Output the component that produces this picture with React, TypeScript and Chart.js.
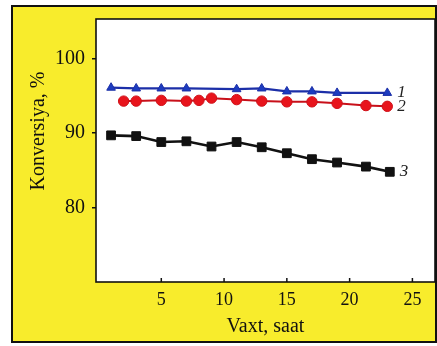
import { useEffect, useRef } from "react";
import { Chart, registerables } from "chart.js";

Chart.register(...registerables);

const hours1 = [1, 3, 5, 7, 11, 13, 15, 17, 19, 23];
const conv1 = [96.1, 96.0, 96.0, 96.0, 95.9, 96.0, 95.6, 95.6, 95.4, 95.4];
const hours2 = [2, 3, 5, 7, 8, 9, 11, 13, 15, 17, 19, 21.3, 23];
const conv2 = [94.3, 94.3, 94.4, 94.3, 94.4, 94.7, 94.5, 94.3, 94.2, 94.2, 94.0, 93.7, 93.6];
const hours3 = [1, 3, 5, 7, 9, 11, 13, 15, 17, 19, 21.3, 23.2];
const conv3 = [89.7, 89.6, 88.8, 88.9, 88.2, 88.8, 88.1, 87.3, 86.5, 86.05, 85.5, 84.8];
const seriesLabels = ["1", "2", "3"];
const xTicks = [5, 10, 15, 20, 25];
const yTicks = [80, 90, 100];
const xTitle = "Vaxt, saat";
const yTitle = "Konversiya, %";

const SERIF = "'Liberation Serif', 'Times New Roman', serif";

const framePlugin = {
  id: "frame",
  beforeDraw(chart: any) {
    const { ctx, chartArea } = chart;
    ctx.save();
    ctx.fillStyle = "#ffffff";
    ctx.fillRect(0, 0, chart.width, chart.height);
    ctx.fillStyle = "#f8ec2c";
    ctx.fillRect(12, 6, 424, 336);
    ctx.strokeStyle = "#111";
    ctx.lineWidth = 2;
    ctx.strokeRect(12, 6, 424, 336);
    ctx.fillStyle = "#ffffff";
    ctx.fillRect(chartArea.left, chartArea.top, chartArea.right - chartArea.left, chartArea.bottom - chartArea.top);
    ctx.restore();
  },
  afterDraw(chart: any) {
    const { ctx, chartArea } = chart;
    const xs = chart.scales.x;
    ctx.save();
    ctx.strokeStyle = "#111";
    ctx.lineWidth = 1.6;
    ctx.strokeRect(chartArea.left, chartArea.top, chartArea.right - chartArea.left, chartArea.bottom - chartArea.top);
    // inner x ticks
    ctx.lineWidth = 1.5;
    xTicks.forEach((v) => {
      const px = xs.getPixelForValue(v);
      ctx.beginPath();
      ctx.moveTo(px, chartArea.bottom);
      ctx.lineTo(px, chartArea.bottom - 4);
      ctx.stroke();
    });
    // series labels
    ctx.fillStyle = "#222";
    ctx.font = "italic 17px " + SERIF;
    ctx.textAlign = "left";
    ctx.textBaseline = "middle";
    chart.data.datasets.forEach((ds: any, i: number) => {
      const meta = chart.getDatasetMeta(i);
      const last = meta.data[meta.data.length - 1];
      ctx.fillText(seriesLabels[i], last.x + 10, last.y);
    });
    // y title
    ctx.fillStyle = "#111";
    ctx.font = "20px " + SERIF;
    ctx.textAlign = "center";
    ctx.translate(39, 131);
    ctx.rotate(-Math.PI / 2);
    ctx.fillText(yTitle, 0, 0);
    ctx.restore();
  },
};

export default function App() {
  const ref = useRef<HTMLCanvasElement>(null);
  useEffect(() => {
    if (!ref.current) return;
    const toPts = (xs: number[], ys: number[]) => xs.map((x, i) => ({ x, y: ys[i] }));
    const chart = new Chart(ref.current, {
      type: "line",
      data: {
        datasets: [
          {
            data: toPts(hours1, conv1),
            borderColor: "#1c2fa8",
            backgroundColor: "#1c3cc0",
            borderWidth: 2.2,
            pointStyle: "triangle",
            pointRadius: 5,
            pointBorderWidth: 1,
            tension: 0,
          },
          {
            data: toPts(hours2, conv2),
            borderColor: "#c8101a",
            backgroundColor: "#e8141c",
            pointBorderColor: "#d01018",
            borderWidth: 2,
            pointStyle: "circle",
            pointRadius: 5.2,
            pointBorderWidth: 1,
            tension: 0,
          },
          {
            data: toPts(hours3, conv3),
            borderColor: "#111",
            backgroundColor: "#111",
            borderWidth: 2.6,
            pointStyle: "rect",
            pointRadius: 6.2,
            pointBorderWidth: 1,
            tension: 0,
          },
        ],
      },
      options: {
        animation: false,
        responsive: false,
        events: [],
        layout: { autoPadding: false, padding: { top: 17, right: 2, left: 0, bottom: 0 } },
        plugins: { legend: { display: false }, tooltip: { enabled: false } },
        scales: {
          x: {
            type: "linear",
            min: -0.2,
            max: 26.8,
            afterBuildTicks: (s: any) => {
              s.ticks = xTicks.map((v) => ({ value: v }));
            },
            afterFit: (s: any) => {
              s.height = 64;
            },
            grid: { display: false, drawTicks: false },
            border: { display: false },
            ticks: {
              color: "#111",
              padding: 7,
              maxRotation: 0,
              autoSkip: false,
              font: { family: SERIF, size: 18 },
            },
            title: {
              display: true,
              text: xTitle,
              color: "#111",
              font: { family: SERIF, size: 20 },
              padding: { top: 0, bottom: 7 },
            },
          },
          y: {
            type: "linear",
            min: 70,
            max: 105.33,
            afterBuildTicks: (s: any) => {
              s.ticks = yTicks.map((v) => ({ value: v }));
            },
            afterFit: (s: any) => {
              s.width = 96;
            },
            grid: {
              drawOnChartArea: false,
              drawTicks: true,
              tickLength: 4,
              color: "#111",
              lineWidth: 1.5,
            },
            border: { display: false },
            ticks: {
              color: "#111",
              padding: 7,
              autoSkip: false,
              font: { family: SERIF, size: 20 },
            },
          },
        },
      },
      plugins: [framePlugin],
    });
    return () => chart.destroy();
  }, []);
  return (
    <div style={{ position: "fixed", left: 0, top: 0, width: 437, height: 346 }}>
      <canvas ref={ref} width={437} height={346} style={{ display: "block" }} />
    </div>
  );
}
